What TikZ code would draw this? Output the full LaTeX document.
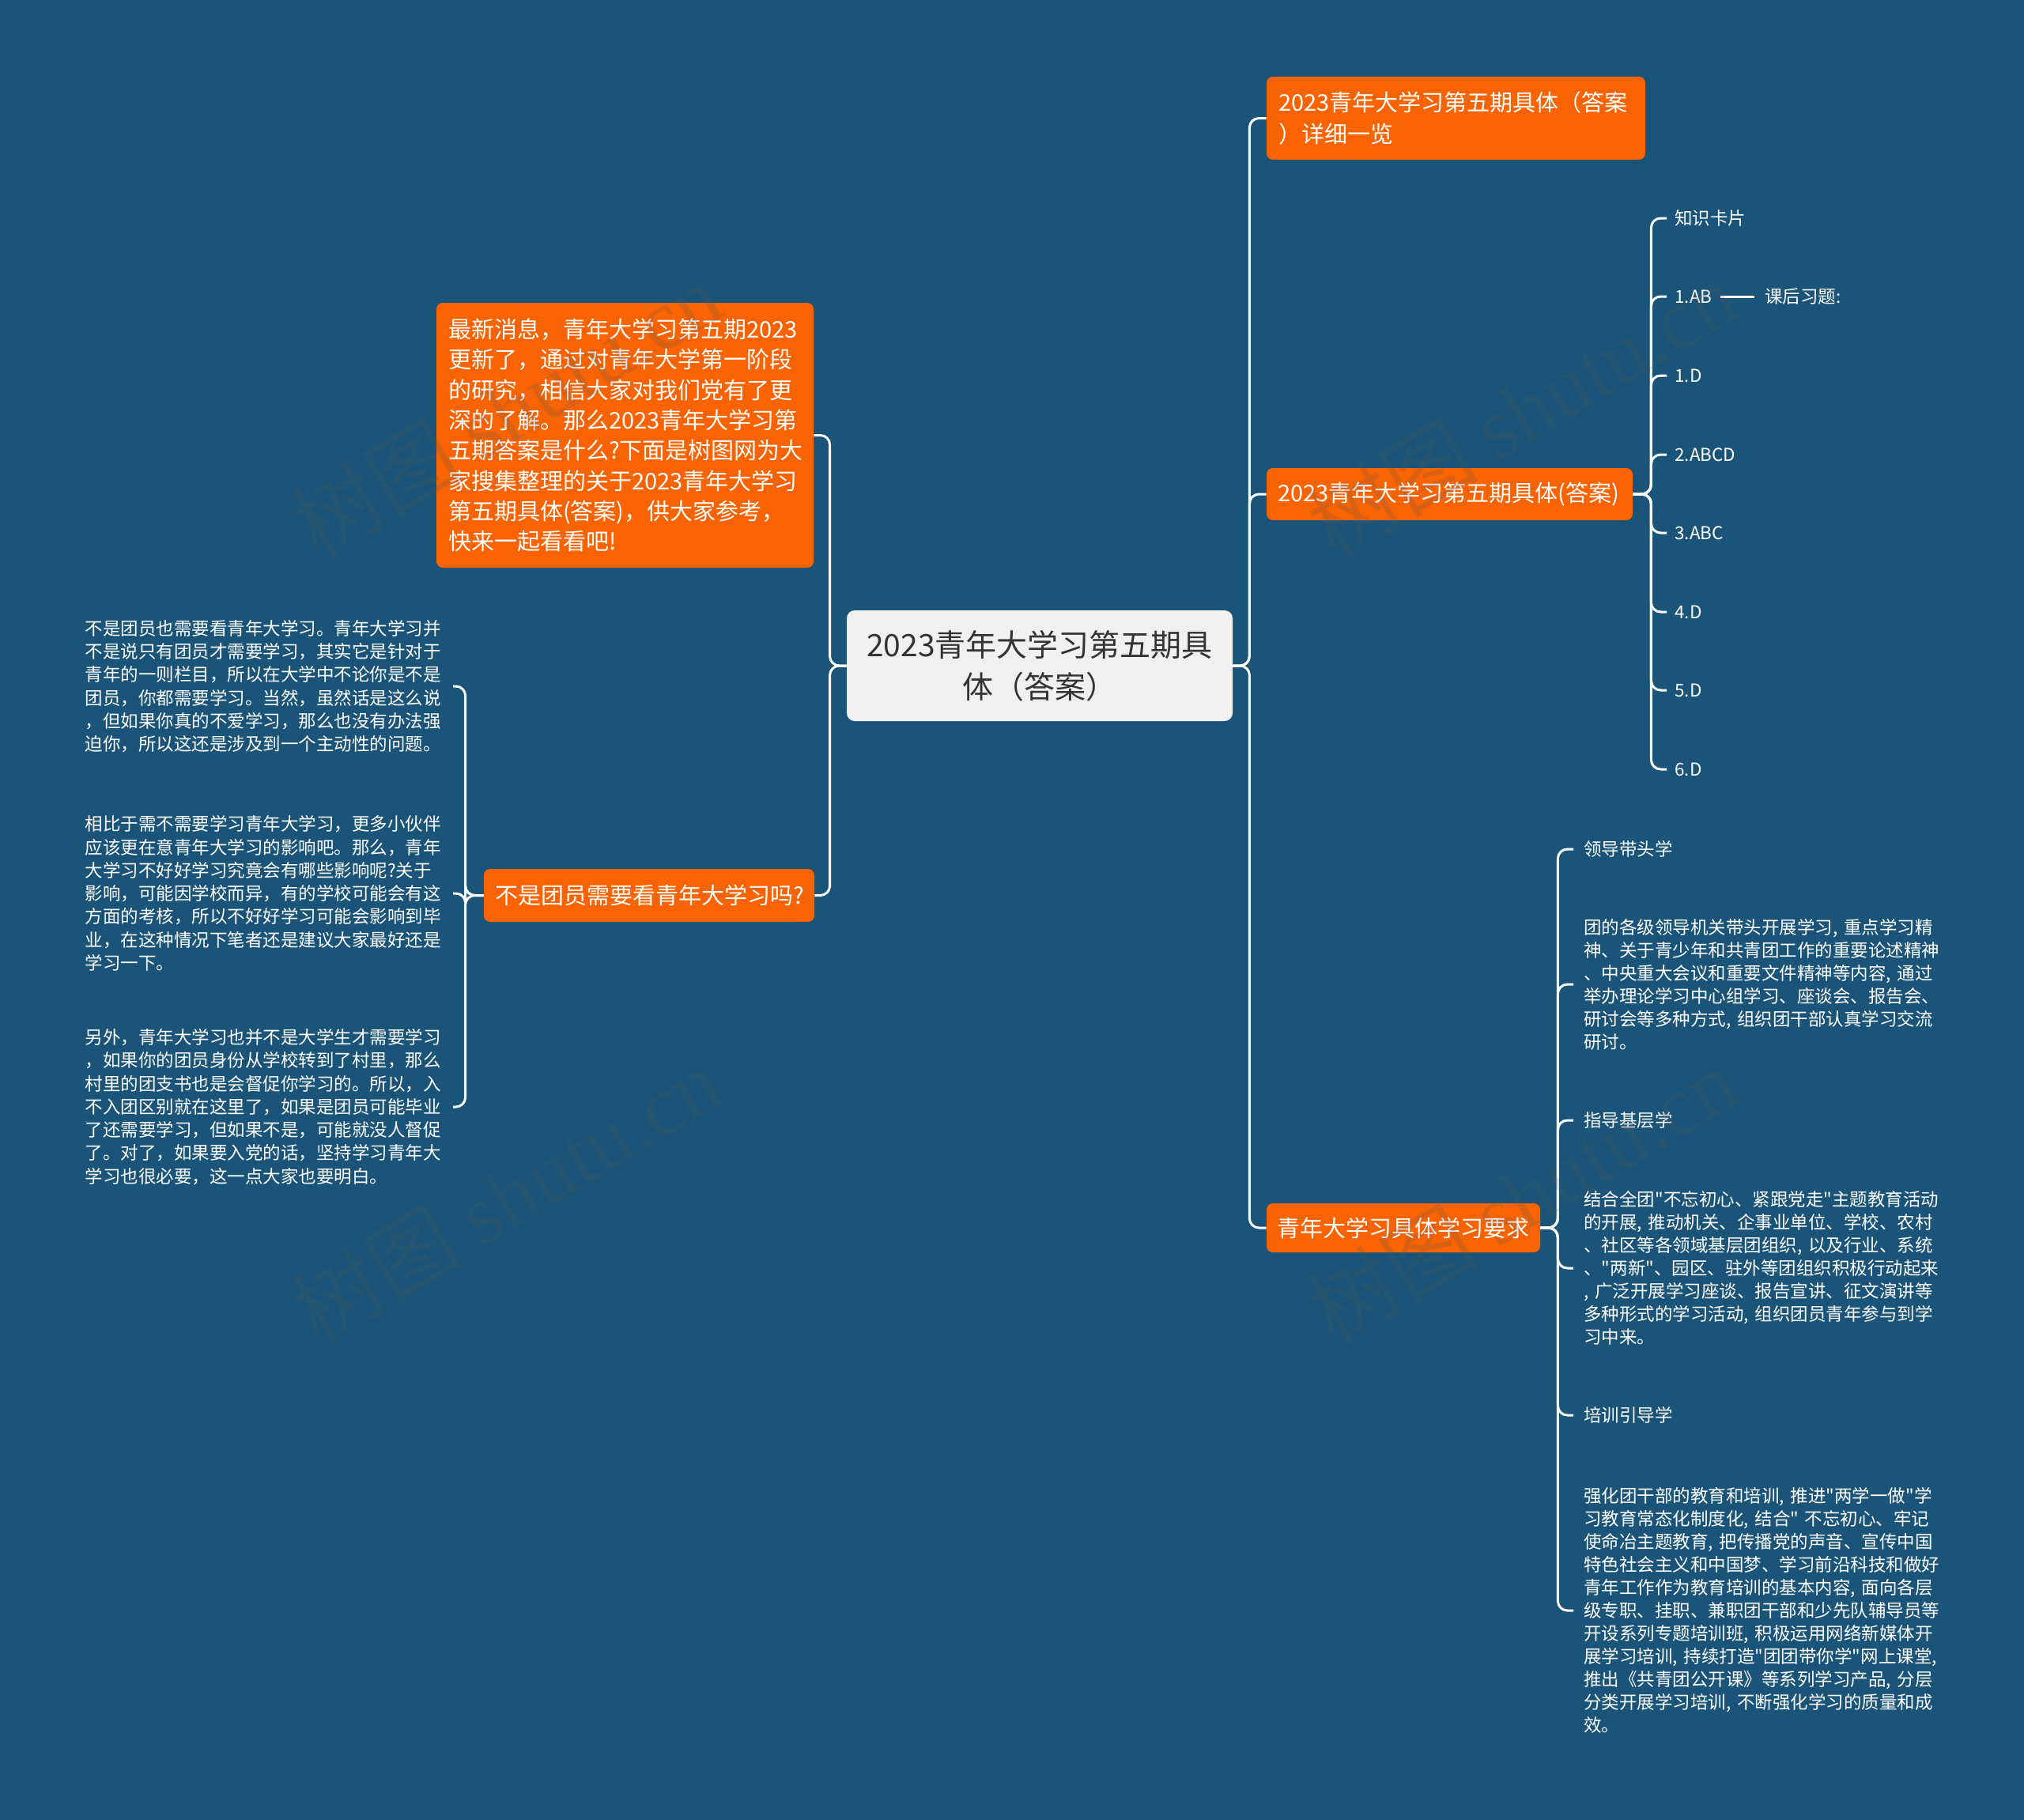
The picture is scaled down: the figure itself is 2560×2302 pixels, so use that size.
\documentclass[tikz,border=0pt]{standalone}
\usepackage{fontspec}
\setmainfont{Noto Sans CJK SC}[Ligatures=TeXOff]
\newfontfamily\wmserif{Liberation Serif}
\definecolor{bg}{RGB}{26,84,120}
\definecolor{org}{RGB}{249,99,2}
\definecolor{cfill}{RGB}{240,240,240}
\definecolor{ctext}{RGB}{51,51,51}
\definecolor{wm}{RGB}{90,90,90}
\begin{document}
\begin{tikzpicture}[x=0.5pt,y=-0.5pt,
  conn/.style={draw=white, line width=1.5pt, rounded corners=6pt},
  obox/.style={fill=org, text=white, rounded corners=4pt, inner sep=0pt, align=left,
    font=\fontsize{14.5pt}{20pt}\selectfont},
  cbox/.style={fill=cfill, text=ctext, rounded corners=5pt, inner sep=0pt, align=center,
    font=\fontsize{19.5pt}{26.5pt}\selectfont, minimum width=244pt, minimum height=70pt, text width=236pt},
  item/.style={text=white, inner xsep=5pt, inner ysep=0pt, anchor=west,
    font=\fontsize{11.25pt}{14.5pt}\selectfont},
  rpara/.style={text=white, inner xsep=6.5pt, inner ysep=0pt, anchor=west, align=left, text width=255pt,
    font=\fontsize{11.25pt}{14.5pt}\selectfont},
  lpara/.style={text=white, inner xsep=7.5pt, inner ysep=0pt, anchor=east, align=left, text width=225pt,
    font=\fontsize{11.25pt}{14.65pt}\selectfont},
  wmark/.style={text=wm, opacity=0.2, rotate=31, font=\fontsize{54pt}{54pt}\selectfont}
]
\fill[bg] (0,0) rectangle (2560,2302);
\useasboundingbox (0,0) rectangle (2560,2302);

% central
\node[cbox] (c) at (1315,842) {2023青年大学习第五期具\\体（答案）};

% right main branches
\node[obox, minimum width=239.5pt, minimum height=52.5pt, text width=224.5pt] (r1) at (1841.5,149.5)
  {2023青年大学习第五期具体（答案\\）详细一览};
\node[obox, minimum width=231.5pt, minimum height=33pt, text width=217pt] (r2) at (1833.5,625)
  {2023青年大学习第五期具体(答案)};
\node[obox, minimum width=173pt, minimum height=31pt, text width=160pt] (r3) at (1775,1553)
  {青年大学习具体学习要求};

% left main branches
\node[obox, minimum width=238.5pt, minimum height=167.5pt, text width=223.5pt,
  font=\fontsize{14.5pt}{19.15pt}\selectfont] (l1) at (790.5,550.5)
  {最新消息，青年大学习第五期2023\\
   更新了，通过对青年大学第一阶段\\
   的研究，相信大家对我们党有了更\\
   深的了解。那么2023青年大学习第\\
   五期答案是什么?下面是树图网为大\\
   家搜集整理的关于2023青年大学习\\
   第五期具体(答案)，供大家参考，\\
   快来一起看看吧!};
\node[obox, minimum width=209pt, minimum height=33.5pt, text width=195pt] (l2) at (821,1132.5)
  {不是团员需要看青年大学习吗?};

% list under r2
\node[item] (k0) at (2108,276) {知识卡片};
\node[item] (k1) at (2108,375) {1.AB};
\node[item] (k2) at (2108,475) {1.D};
\node[item] (k3) at (2108,575) {2.ABCD};
\node[item] (k4) at (2108,674) {3.ABC};
\node[item] (k5) at (2108,774) {4.D};
\node[item] (k6) at (2108,873) {5.D};
\node[item] (k7) at (2108,973) {6.D};
\node[item, inner xsep=6.5pt] (kh) at (2219,375) {课后习题:};

% items under r3
\node[item, inner xsep=6.5pt] (q1) at (1990,1074) {领导带头学};
\node[rpara] (q2) at (1990,1245)
  {团的各级领导机关带头开展学习, 重点学习精\\
   神、关于青少年和共青团工作的重要论述精神\\
   、中央重大会议和重要文件精神等内容, 通过\\
   举办理论学习中心组学习、座谈会、报告会、\\
   研讨会等多种方式, 组织团干部认真学习交流\\
   研讨。};
\node[item, inner xsep=6.5pt] (q3) at (1990,1417) {指导基层学};
\node[rpara] (q4) at (1990,1604)
  {结合全团"不忘初心、紧跟党走"主题教育活动\\
   的开展, 推动机关、企事业单位、学校、农村\\
   、社区等各领域基层团组织, 以及行业、系统\\
   、"两新"、园区、驻外等团组织积极行动起来\\
   , 广泛开展学习座谈、报告宣讲、征文演讲等\\
   多种形式的学习活动, 组织团员青年参与到学\\
   习中来。};
\node[item, inner xsep=6.5pt] (q5) at (1990,1790) {培训引导学};
\node[rpara] (q6) at (1990,2037)
  {强化团干部的教育和培训, 推进"两学一做"学\\
   习教育常态化制度化, 结合" 不忘初心、牢记\\
   使命冶主题教育, 把传播党的声音、宣传中国\\
   特色社会主义和中国梦、学习前沿科技和做好\\
   青年工作作为教育培训的基本内容, 面向各层\\
   级专职、挂职、兼职团干部和少先队辅导员等\\
   开设系列专题培训班, 积极运用网络新媒体开\\
   展学习培训, 持续打造"团团带你学"网上课堂,\\
   推出《共青团公开课》等系列学习产品, 分层\\
   分类开展学习培训, 不断强化学习的质量和成\\
   效。};

% left paragraphs under l2
\node[lpara] (p1) at (573,868)
  {不是团员也需要看青年大学习。青年大学习并\\
   不是说只有团员才需要学习，其实它是针对于\\
   青年的一则栏目，所以在大学中不论你是不是\\
   团员，你都需要学习。当然，虽然话是这么说\\
   ，但如果你真的不爱学习，那么也没有办法强\\
   迫你，所以这还是涉及到一个主动性的问题。};
\node[lpara] (p2) at (573,1130)
  {相比于需不需要学习青年大学习，更多小伙伴\\
   应该更在意青年大学习的影响吧。那么，青年\\
   大学习不好好学习究竟会有哪些影响呢?关于\\
   影响，可能因学校而异，有的学校可能会有这\\
   方面的考核，所以不好好学习可能会影响到毕\\
   业，在这种情况下笔者还是建议大家最好还是\\
   学习一下。};
\node[lpara] (p3) at (573,1400)
  {另外，青年大学习也并不是大学生才需要学习\\
   ，如果你的团员身份从学校转到了村里，那么\\
   村里的团支书也是会督促你学习的。所以，入\\
   不入团区别就在这里了，如果是团员可能毕业\\
   了还需要学习，但如果不是，可能就没人督促\\
   了。对了，如果要入党的话，坚持学习青年大\\
   学习也很必要，这一点大家也要明白。};

% connectors: centre to main branches
\foreach \t in {r1,r2,r3} \draw[conn] (c.east) -- ++(21,0) |- (\t.west);
\foreach \t in {l1,l2} \draw[conn] (c.west) -- ++(-21,0) |- (\t.east);
% r2 list
\foreach \t in {k0,k1,k2,k3,k4,k5,k6,k7} \draw[conn] (r2.east) -- ++(23,0) |- (\t.west);
\draw[draw=white, line width=1.5pt] (k1.east) -- (kh.west);
% r3 items
\foreach \t in {q1,q2,q3,q4,q5,q6} \draw[conn] (r3.east) -- ++(22,0) |- (\t.west);
% l2 paragraphs
\foreach \t in {p1,p2,p3} \draw[conn] (l2.west) -- ++(-23,0) |- (\t.east);

% watermarks
\node[wmark] (w1) at (640,518) {树图 {\wmserif shutu.cn}};
\node[wmark] (w2) at (1925,518) {树图 {\wmserif shutu.cn}};
\node[wmark] (w3) at (640,1512) {树图 {\wmserif shutu.cn}};
\node[wmark] (w4) at (1925,1512) {树图 {\wmserif shutu.cn}};
\end{tikzpicture}
\end{document}
